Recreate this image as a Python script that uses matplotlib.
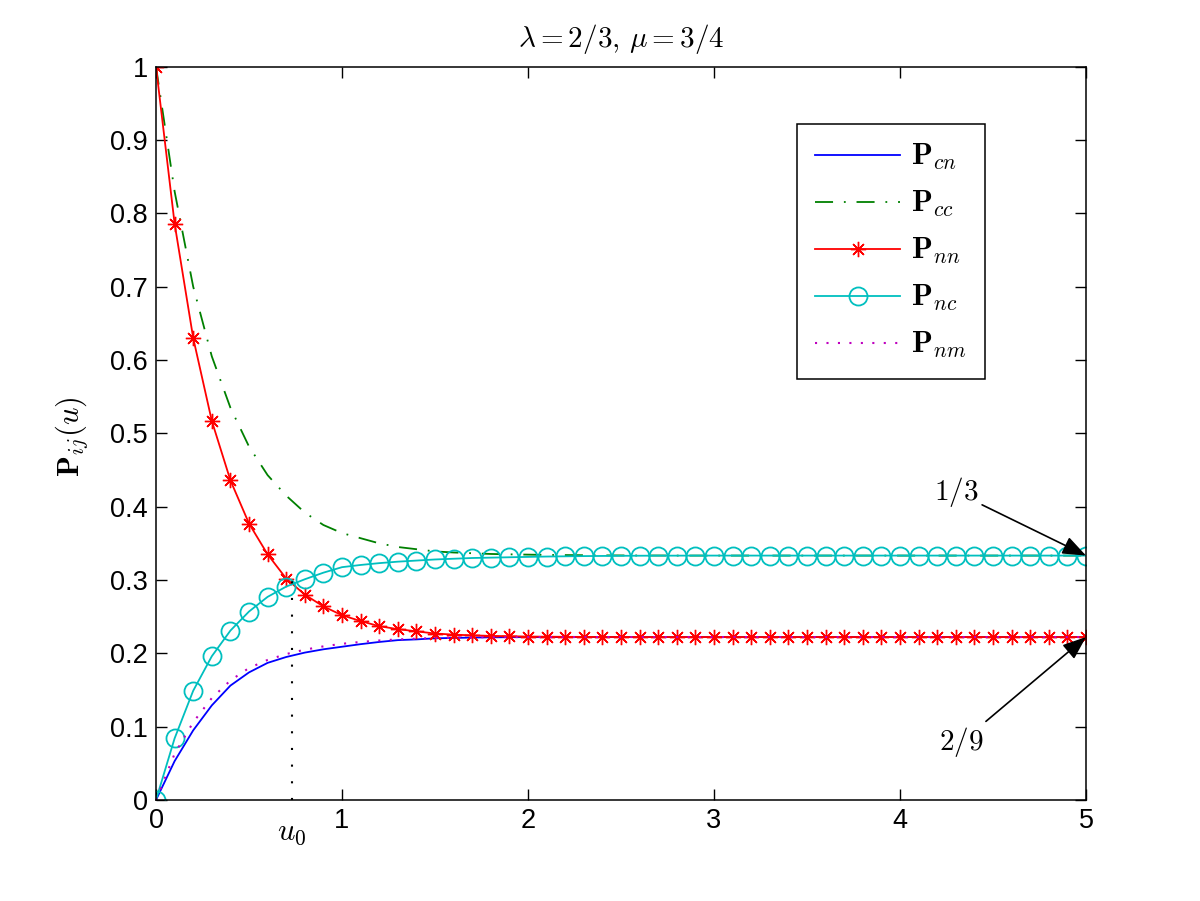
import numpy as np
import matplotlib
matplotlib.use("Agg")
import matplotlib.pyplot as plt
from matplotlib.transforms import blended_transform_factory

plt.rcParams['font.family'] = ['Liberation Sans', 'DejaVu Sans']
plt.rcParams['mathtext.fontset'] = 'cm'

# u grid, 0 .. 5 step 0.1 (51 points)
u = np.linspace(0, 5, 51)

p_cn = [0.000, 0.053, 0.095, 0.129, 0.156, 0.174, 0.187, 0.195, 0.201, 0.2055,
        0.209, 0.2125, 0.2155, 0.218, 0.219, 0.2205, 0.221, 0.2215, 0.2218, 0.222,
        0.2221, 0.2221, 0.2222, 0.2222, 0.2222, 0.2222, 0.2222, 0.2222, 0.2222, 0.2222,
        0.2222, 0.2222, 0.2222, 0.2222, 0.2222, 0.2222, 0.2222, 0.2222, 0.2222, 0.2222,
        0.2222, 0.2222, 0.2222, 0.2222, 0.2222, 0.2222, 0.2222, 0.2222, 0.2222, 0.2222,
        0.2222]
p_cc = [1.000, 0.830, 0.700, 0.605, 0.535, 0.482, 0.443, 0.415, 0.392, 0.375,
        0.364, 0.357, 0.350, 0.345, 0.342, 0.339, 0.3375, 0.3365, 0.3355, 0.335,
        0.3346, 0.3342, 0.334, 0.3338, 0.3336, 0.3335, 0.3334, 0.3334, 0.3333, 0.3333,
        0.3333, 0.3333, 0.3333, 0.3333, 0.3333, 0.3333, 0.3333, 0.3333, 0.3333, 0.3333,
        0.3333, 0.3333, 0.3333, 0.3333, 0.3333, 0.3333, 0.3333, 0.3333, 0.3333, 0.3333,
        0.3333]
p_nn = [1.000, 0.786, 0.630, 0.517, 0.436, 0.377, 0.335, 0.302, 0.280, 0.264,
        0.252, 0.244, 0.237, 0.233, 0.230, 0.227, 0.2255, 0.2245, 0.2238, 0.2233,
        0.2229, 0.2227, 0.2225, 0.2224, 0.2223, 0.2223, 0.2222, 0.2222, 0.2222, 0.2222,
        0.2222, 0.2222, 0.2222, 0.2222, 0.2222, 0.2222, 0.2222, 0.2222, 0.2222, 0.2222,
        0.2222, 0.2222, 0.2222, 0.2222, 0.2222, 0.2222, 0.2222, 0.2222, 0.2222, 0.2222,
        0.2222]
p_nc = [0.000, 0.084, 0.149, 0.196, 0.231, 0.257, 0.277, 0.291, 0.301, 0.310,
        0.3175, 0.3205, 0.323, 0.325, 0.3265, 0.328, 0.329, 0.330, 0.3305, 0.331,
        0.3315, 0.332, 0.3323, 0.3326, 0.3328, 0.3330, 0.3331, 0.3332, 0.3332, 0.3333,
        0.3333, 0.3333, 0.3333, 0.3333, 0.3333, 0.3333, 0.3333, 0.3333, 0.3333, 0.3333,
        0.3333, 0.3333, 0.3333, 0.3333, 0.3333, 0.3333, 0.3333, 0.3333, 0.3333, 0.3333,
        0.3333]
p_nm = [0.000, 0.063, 0.106, 0.139, 0.163, 0.180, 0.191, 0.199, 0.205, 0.2095,
        0.213, 0.2155, 0.2175, 0.219, 0.220, 0.221, 0.2215, 0.2218, 0.222, 0.2221,
        0.2222, 0.2222, 0.2222, 0.2222, 0.2222, 0.2222, 0.2222, 0.2222, 0.2222, 0.2222,
        0.2222, 0.2222, 0.2222, 0.2222, 0.2222, 0.2222, 0.2222, 0.2222, 0.2222, 0.2222,
        0.2222, 0.2222, 0.2222, 0.2222, 0.2222, 0.2222, 0.2222, 0.2222, 0.2222, 0.2222,
        0.2222]

u0 = 0.73        # crossing point of Pnn and Pnc
p_u0 = 0.30

xticks = [0, 1, 2, 3, 4, 5]
yticks = [0, 0.1, 0.2, 0.3, 0.4, 0.5, 0.6, 0.7, 0.8, 0.9, 1]
ytick_labels = ['0', '0.1', '0.2', '0.3', '0.4', '0.5', '0.6', '0.7', '0.8', '0.9', '1']

fig = plt.figure(figsize=(12, 9.01), dpi=100)
ax = fig.add_axes([0.13, 0.1121, 0.775, 0.8139])

lw = 1.3
ax.plot(u, p_cn, color=(0, 0, 1), lw=lw, label=r'$\mathbf{P}_{cn}$')
ax.plot(u, p_cc, color=(0, 0.5, 0), lw=lw, ls=(0, (10, 6, 1, 6)), label=r'$\mathbf{P}_{cc}$')
ax.plot(u, p_nn, color=(1, 0, 0), lw=lw, marker=(8, 2, 0), ms=11, mew=1.0,
        label=r'$\mathbf{P}_{nn}$')
ax.plot(u, p_nc, color=(0, 0.75, 0.75), lw=lw, marker='o', ms=13, mfc='none', mew=1.3,
        label=r'$\mathbf{P}_{nc}$')
ax.plot(u, p_nm, color=(0.75, 0, 0.75), lw=1.5, ls=(0, (1, 4.5)), label=r'$\mathbf{P}_{nm}$')

ax.plot([u0, u0], [0, p_u0], color='k', lw=1.5, ls=(0, (1, 7)))

ax.set_xlim(0, 5)
ax.set_ylim(0, 1)
ax.set_xticks(xticks)
ax.set_xticklabels([str(t) for t in xticks])
ax.set_yticks(yticks)
ax.set_yticklabels(ytick_labels)
ax.tick_params(direction='in', length=8, width=1, labelsize=19.5, top=True, right=True, pad=6)
for s in ax.spines.values():
    s.set_linewidth(1.1)

trans = blended_transform_factory(ax.transData, ax.transAxes)
ax.text(u0, -0.044, r'$u_0$', transform=trans, ha='center', va='center', fontsize=22)

ax.set_title(r'$\lambda = 2/3,\, \mu = 3/4$', fontsize=21, pad=14)
ax.set_ylabel(r'$\mathbf{P}_{ij}(u)$', fontsize=22)
ax.yaxis.set_label_coords(-0.071, 0.495)

arrow = dict(arrowstyle='-|>,head_length=0.9,head_width=0.35', color='k', lw=1.2,
             shrinkA=1, shrinkB=0, mutation_scale=16)
ax.annotate(r'$1/3$', xy=(5, 1/3), xytext=(4.30, 0.420), ha='center', va='center',
            fontsize=21, arrowprops=arrow, annotation_clip=False)
ax.annotate(r'$2/9$', xy=(5, 2/9), xytext=(4.33, 0.079), ha='center', va='center',
            fontsize=21, arrowprops=arrow, annotation_clip=False)

leg = ax.legend(loc='upper right', bbox_to_anchor=(0.891, 0.922), borderaxespad=0,
                fontsize=22, numpoints=1, handlelength=2.8, handletextpad=0.35,
                labelspacing=0.55, borderpad=0.6,
                fancybox=False, framealpha=1, edgecolor='k')
leg.get_frame().set_linewidth(1.1)

fig.savefig('out.png', dpi=100)
